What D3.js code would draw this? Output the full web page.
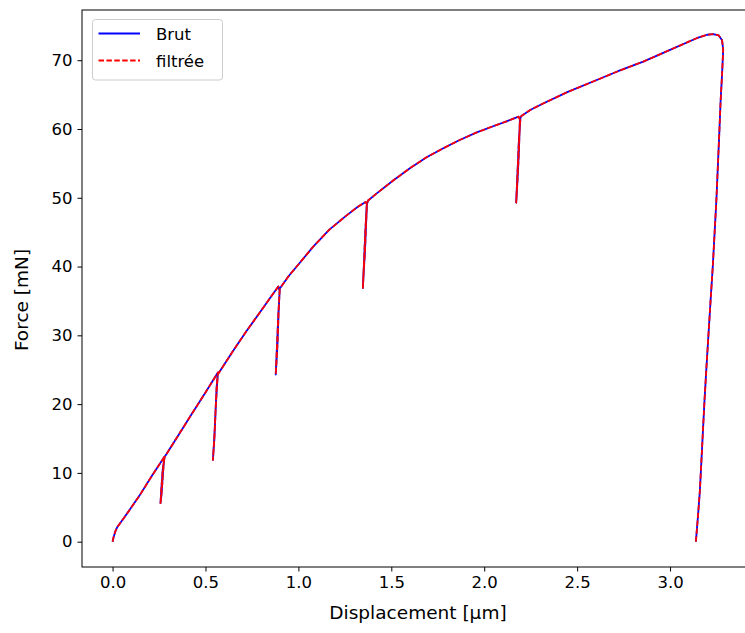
<!DOCTYPE html>
<html>
<head>
<meta charset="utf-8">
<script src="https://cdn.jsdelivr.net/npm/d3@7"></script>
<style>
  html, body { margin: 0; padding: 0; background: #fff; }
  text { font-family: "DejaVu Sans", sans-serif; fill: #000; }
</style>
</head>
<body>
<svg id="chart" width="745" height="633"></svg>
<script>
// ---- data ----
const displacement = [
  0, 0.005, 0.015, 0.025, 0.06, 0.145, 0.21, 0.28,
  0.276, 0.27, 0.266, 0.262, 0.258, 0.262, 0.27, 0.28,
  0.35, 0.42, 0.5, 0.567,
  0.56, 0.555, 0.55, 0.545, 0.54, 0.548, 0.556, 0.566,
  0.65, 0.72, 0.8, 0.86, 0.892, 0.899,
  0.893, 0.888, 0.883, 0.878, 0.884, 0.892, 0.9,
  0.95, 1.0, 1.08, 1.168, 1.258, 1.32, 1.362, 1.369,
  1.364, 1.358, 1.352, 1.347, 1.352, 1.36, 1.368,
  1.375, 1.42, 1.51, 1.6, 1.69, 1.78, 1.868, 1.96, 2.048, 2.12, 2.185, 2.192,
  2.187, 2.181, 2.176, 2.172, 2.178, 2.186, 2.195,
  2.2, 2.25, 2.317, 2.45, 2.586, 2.72, 2.856, 3.0, 3.143, 3.2, 3.232, 3.262, 3.28, 3.286,
  3.28, 3.272, 3.266, 3.258, 3.25, 3.24, 3.23, 3.218, 3.207, 3.196,
  3.185, 3.177, 3.168, 3.16, 3.15, 3.139
];
const forceBrut = [
  0, 0.6, 1.5, 2.1, 3.4, 6.7, 9.5, 12.4,
  11.6, 9.5, 7.8, 6.5, 5.6, 7.5, 10.5, 12.3,
  15.3, 18.3, 21.7, 24.6,
  22.5, 19.5, 16.5, 14.0, 11.9, 15.0, 20.0, 24.3,
  27.8, 30.6, 33.6, 35.9, 37.1, 36.5,
  33.0, 29.0, 26.5, 24.3, 28.0, 33.0, 36.8,
  38.7, 40.3, 42.9, 45.4, 47.4, 48.7, 49.4, 49.1,
  46.0, 42.0, 39.5, 36.9, 40.0, 45.0, 49.0,
  49.6, 50.6, 52.5, 54.3, 55.9, 57.2, 58.4, 59.5, 60.4, 61.1, 61.8, 61.4,
  57.0, 53.5, 51.0, 49.3, 53.0, 58.0, 61.6,
  61.9, 62.8, 63.7, 65.4, 66.9, 68.4, 69.8, 71.5, 73.2, 73.7, 73.8, 73.6, 72.9, 71.5,
  68.0, 64.0, 60.0, 55.0, 50.0, 45.0, 40.0, 35.0, 30.2, 25.4,
  20.3, 16.1, 11.3, 7.2, 3.6, 0
];
const forceFiltree = forceBrut.slice();

const xTicks = [0.0, 0.5, 1.0, 1.5, 2.0, 2.5, 3.0];
const yTicks = [0, 10, 20, 30, 40, 50, 60, 70];
const seriesNames = ["Brut", "filtrée"];
const seriesColors = ["#0000ff", "#ff0000"];

// ---- layout ----
const svg = d3.select("#chart");
const mLeft = 82, mRight = 754.5, mTop = 10, mBottom = 567;

const x = d3.scaleLinear().domain([-0.1645, 3.4545]).range([mLeft, mRight]);
const y = d3.scaleLinear().domain([-3.68, 77.3]).range([mBottom, mTop]);

const brut = displacement.map((d, i) => [d, forceBrut[i]]);
const filt = displacement.map((d, i) => [d, forceFiltree[i]]);

const line = d3.line().x(d => x(d[0])).y(d => y(d[1]));

svg.append("clipPath").attr("id", "plotclip")
  .append("rect").attr("x", mLeft).attr("y", mTop)
  .attr("width", mRight - mLeft).attr("height", mBottom - mTop);

const plot = svg.append("g").attr("clip-path", "url(#plotclip)");
plot.append("path").datum(brut)
  .attr("d", line).attr("fill", "none")
  .attr("stroke", seriesColors[0]).attr("stroke-width", 1.8)
  .attr("stroke-linejoin", "round");
plot.append("path").datum(filt)
  .attr("d", line).attr("fill", "none")
  .attr("stroke", seriesColors[1]).attr("stroke-width", 1.8)
  .attr("stroke-dasharray", "5.5,2.4")
  .attr("stroke-linejoin", "round");

// axes
const xAxis = d3.axisBottom(x).tickValues(xTicks).tickFormat(d3.format(".1f"))
  .tickSize(4.5).tickPadding(5);
const yAxis = d3.axisLeft(y).tickValues(yTicks).tickFormat(d3.format("d"))
  .tickSize(4.5).tickPadding(5);

const gx = svg.append("g").attr("transform", `translate(0,${mBottom})`).call(xAxis);
const gy = svg.append("g").attr("transform", `translate(${mLeft},0)`).call(yAxis);
[gx, gy].forEach(g => {
  g.select(".domain").remove();
  g.selectAll(".tick line").attr("stroke", "#000").attr("stroke-width", 1);
  g.selectAll(".tick text").attr("font-size", 16.5).attr("font-family", "DejaVu Sans, sans-serif").attr("fill", "#000");
});

// frame
svg.append("rect").attr("x", mLeft).attr("y", mTop)
  .attr("width", mRight - mLeft).attr("height", mBottom - mTop)
  .attr("fill", "none").attr("stroke", "#000").attr("stroke-width", 1);

// axis labels
svg.append("text").attr("x", 418).attr("y", 619)
  .attr("text-anchor", "middle").attr("font-size", 18.5)
  .text("Displacement [μm]");
svg.append("text").attr("transform", "translate(28,300) rotate(-90)")
  .attr("text-anchor", "middle").attr("font-size", 18.5)
  .text("Force [mN]");

// legend
const lg = svg.append("g");
lg.append("rect").attr("x", 92.5).attr("y", 19.5).attr("width", 130).attr("height", 60.5)
  .attr("rx", 3).attr("fill", "#fff").attr("fill-opacity", 0.8)
  .attr("stroke", "#cccccc").attr("stroke-width", 1);
seriesNames.forEach((name, i) => {
  const yy = 33.5 + i * 27;
  lg.append("line").attr("x1", 98.5).attr("x2", 140).attr("y1", yy).attr("y2", yy)
    .attr("stroke", seriesColors[i]).attr("stroke-width", 1.8)
    .attr("stroke-dasharray", i === 1 ? "5.5,2.4" : null);
  lg.append("text").attr("x", 156).attr("y", yy + 6).attr("font-size", 16.5).text(name);
});
</script>
</body>
</html>
